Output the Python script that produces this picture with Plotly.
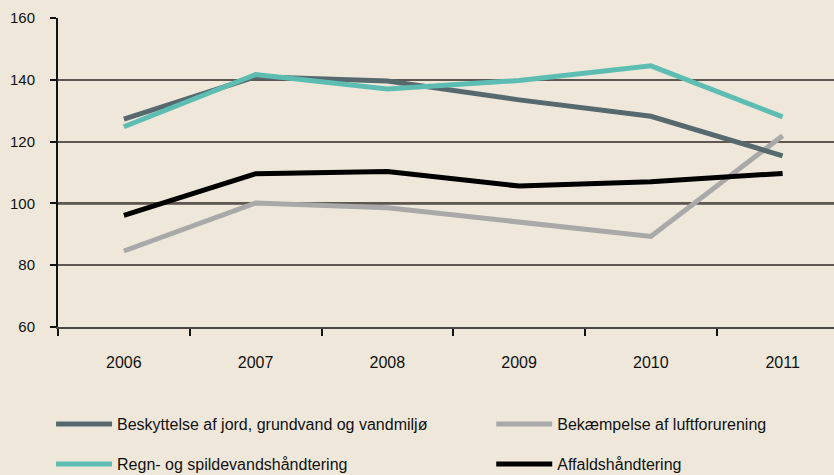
import plotly.graph_objects as go

years = ["2006", "2007", "2008", "2009", "2010", "2011"]
beskyttelse = [127.3, 141.0, 139.6, 133.5, 128.2, 115.4]
regn = [124.8, 141.7, 137.0, 139.8, 144.5, 128.0]
bekaempelse = [84.6, 100.1, 98.6, 94.0, 89.3, 121.9]
affald = [96.1, 109.6, 110.3, 105.6, 107.0, 109.7]

names = [
    "Beskyttelse af jord, grundvand og vandmiljø",
    "Bekæmpelse af luftforurening",
    "Regn- og spildevandshåndtering",
    "Affaldshåndtering",
]
colors = ["#56696f", "#a9a9a9", "#5ebdb3", "#000000"]
series = [beskyttelse, bekaempelse, regn, affald]
legends = ["legend", "legend2", "legend3", "legend4"]

BG = "#efe8da"
fig = go.Figure()
order = [1, 3, 0, 2]
for i in order:
    fig.add_trace(go.Scatter(
        x=years, y=series[i], name=names[i], mode="lines",
        line=dict(color=colors[i], width=5),
        legend=legends[i], showlegend=True,
    ))

fig.add_shape(type="line", xref="paper", x0=0, x1=1, yref="y", y0=100, y1=100,
              line=dict(color="#000000", width=2), layer="below")

legfont = dict(family="Liberation Sans, Arial", size=16, color="#111111")
common_leg = dict(orientation="h", xref="container", yref="container",
                  xanchor="left", yanchor="middle",
                  itemwidth=56, font=legfont, bgcolor="rgba(0,0,0,0)")
fig.update_layout(
    width=834, height=475, showlegend=True,
    paper_bgcolor=BG, plot_bgcolor=BG,
    margin=dict(l=58, r=0, t=18, b=148),
    font=dict(family="Liberation Sans, Arial", size=16, color="#111111"),
    legend=dict(common_leg, x=0.0612, y=0.107),
    legend2=dict(common_leg, x=0.589, y=0.107),
    legend3=dict(common_leg, x=0.0612, y=0.023),
    legend4=dict(common_leg, x=0.589, y=0.023),
    xaxis=dict(type="category", range=[-0.5, 5.39], tickson="boundaries",
               ticks="outside", ticklen=7, tickwidth=1.5, tickcolor="#111111",
               showline=True, linecolor="#4a4642", linewidth=2, showgrid=False,
               ticklabelstandoff=20, tickfont=dict(size=16)),
    yaxis=dict(range=[60, 160], tickvals=[60, 80, 100, 120, 140, 160],
               ticks="outside", ticklen=6, tickwidth=1.5, tickcolor="#111111",
               showline=True, linecolor="#111111", linewidth=2,
               showgrid=True, gridcolor="#5e5851", gridwidth=1.5, zeroline=False,
               tickfont=dict(size=15), ticklabelstandoff=12),
)
fig.write_html("out.html", config={"displayModeBar": False},
               post_script="document.body.style.margin='0';document.body.style.overflow='hidden';")
